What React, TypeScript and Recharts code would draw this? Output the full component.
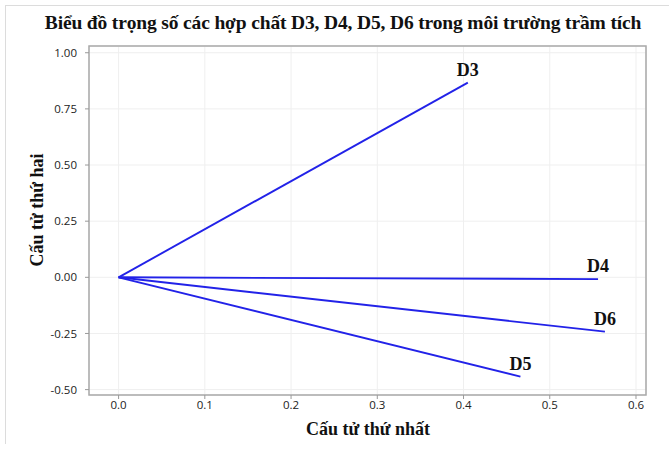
import React from 'react';
import {
  LineChart,
  Line,
  XAxis,
  YAxis,
  CartesianGrid,
  ReferenceArea,
} from 'recharts';

// Loadings of each compound on the first two components
const compounds = ['D3', 'D4', 'D5', 'D6'];
const firstComponent = [0.405, 0.556, 0.466, 0.564];
const secondComponent = [0.867, -0.008, -0.442, -0.242];

const xTicks = [0, 0.1, 0.2, 0.3, 0.4, 0.5, 0.6];
const yTicks = [-0.5, -0.25, 0, 0.25, 0.5, 0.75, 1.0];
const xDomain = [-0.0343, 0.6116];
const yDomain = [-0.524, 1.03];

const vectors = compounds.map((name, i) => ({
  name,
  points: [
    { x: 0, y: 0 },
    { x: firstComponent[i], y: secondComponent[i], name },
  ],
}));

const serif = '"Liberation Serif", "Times New Roman", serif';
const sans = '"Open Sans", "Noto Sans", sans-serif';
const lineColor = '#2222e8';

const EndLabel = (props: any) => {
  const { x, y, index, value } = props;
  if (index !== 1) return null;
  return (
    <text
      x={x}
      y={y - 7}
      textAnchor="middle"
      fontFamily={serif}
      fontWeight="bold"
      fontSize={18}
      fill="#111"
    >
      {value}
    </text>
  );
};

const App: React.FC = () => {
  return (
    <div
      style={{
        position: 'absolute',
        left: 0,
        top: 0,
        width: 669,
        height: 449,
        background: '#fff',
        overflow: 'hidden',
      }}
    >
      <div
        style={{
          position: 'absolute',
          left: 5,
          top: 5,
          width: 700,
          height: 438,
          borderLeft: '1px solid #dcdcdc',
          borderTop: '1px solid #dcdcdc',
        }}
      />
      <div
        style={{
          position: 'absolute',
          left: 0,
          top: 12,
          width: 686,
          textAlign: 'center',
          fontFamily: serif,
          fontWeight: 'bold',
          fontSize: 19.5,
          letterSpacing: -0.15,
          color: '#111',
          whiteSpace: 'nowrap',
        }}
      >
        Biểu đồ trọng số các hợp chất D3, D4, D5, D6 trong môi trường trầm tích
      </div>
      <div
        style={{
          position: 'absolute',
          left: 37,
          top: 210,
          transform: 'translate(-50%, -50%) rotate(-90deg)',
          fontFamily: serif,
          fontWeight: 'bold',
          fontSize: 18,
          color: '#111',
          whiteSpace: 'nowrap',
        }}
      >
        Cấu tử thứ hai
      </div>
      <div
        style={{
          position: 'absolute',
          left: 368,
          top: 429,
          transform: 'translate(-50%, -50%)',
          fontFamily: serif,
          fontWeight: 'bold',
          fontSize: 18,
          color: '#111',
          whiteSpace: 'nowrap',
        }}
      >
        Cấu tử thứ nhất
      </div>
      <LineChart
        width={669}
        height={449}
        margin={{ top: 46, right: 23, bottom: 24, left: 29 }}
        style={{ position: 'absolute', left: 0, top: 0 }}
      >
        <CartesianGrid stroke="#efefef" strokeWidth={1} />
        <XAxis
          type="number"
          dataKey="x"
          domain={xDomain}
          ticks={xTicks}
          allowDataOverflow
          height={30}
          axisLine={false}
          tickSize={4}
          tickLine={{ stroke: '#9a9a9a' }}
          tick={{ fontFamily: sans, fontSize: 11.5, fill: '#222' }}
          tickFormatter={(v: number) => v.toFixed(1)}
        />
        <YAxis
          type="number"
          dataKey="y"
          domain={yDomain}
          ticks={yTicks}
          allowDataOverflow
          width={60}
          axisLine={false}
          tickSize={4}
          tickMargin={8}
          tickLine={{ stroke: '#9a9a9a' }}
          tick={{ fontFamily: sans, fontSize: 11.5, fill: '#222' }}
          tickFormatter={(v: number) => v.toFixed(2)}
        />
        <ReferenceArea
          x1={xDomain[0]}
          x2={xDomain[1]}
          y1={yDomain[0]}
          y2={yDomain[1]}
          fill="none"
          stroke="#a9a9a9"
          strokeWidth={1.5}
          ifOverflow="visible"
        />
        {vectors.map((v) => (
          <Line
            key={v.name}
            data={v.points}
            dataKey="y"
            type="linear"
            stroke={lineColor}
            strokeWidth={1.9}
            dot={false}
            activeDot={false}
            isAnimationActive={false}
            label={(p: any) => <EndLabel {...p} value={p.index === 1 ? v.name : ''} />}
          />
        ))}
      </LineChart>
    </div>
  );
};

export default App;
